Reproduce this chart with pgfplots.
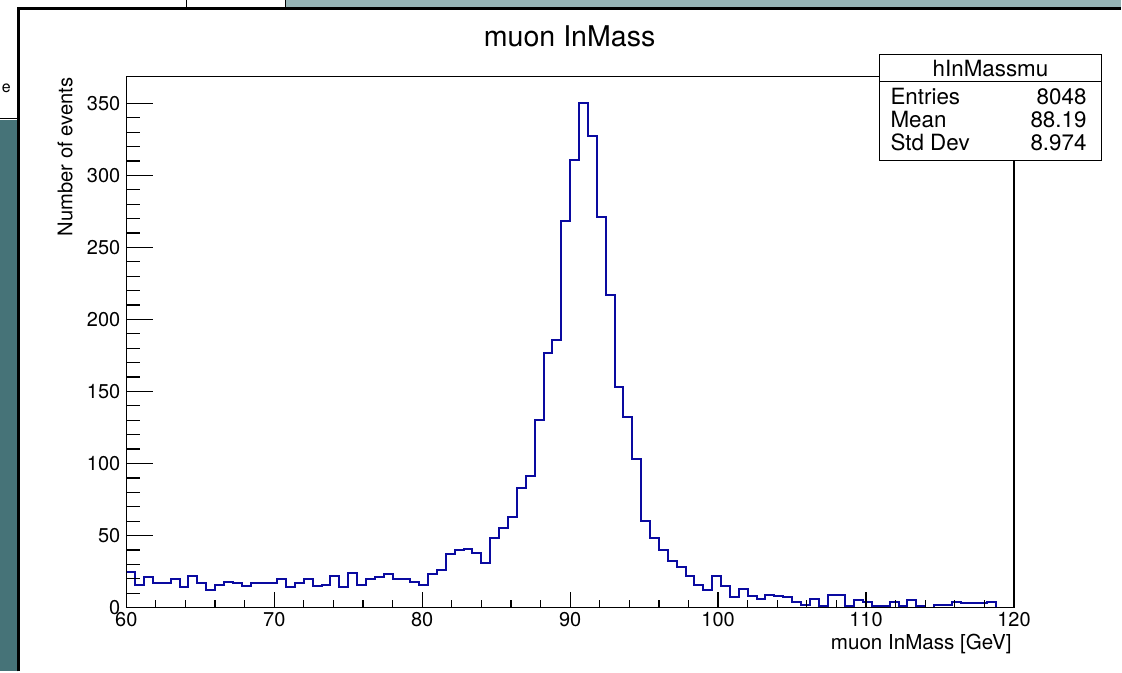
\documentclass[border=0pt]{standalone}
\usepackage{pgfplots}
\pgfplotsset{compat=1.18}
\usepackage{pgfplotstable}
\usepackage{fontspec}
\setmainfont{TeX Gyre Heros}
\definecolor{histblue}{RGB}{10,10,160}
\definecolor{bgteal}{RGB}{150,180,182}
\definecolor{bgdark}{RGB}{70,115,120}
\pgfplotstableread{
x y
60.0 25
60.6 16
61.2 21
61.8 17
62.4 17
63.0 20
63.6 14
64.2 22
64.8 17
65.4 12
66.0 16
66.6 18
67.2 17
67.8 15
68.4 17
69.0 17
69.6 17
70.2 20
70.8 14
71.4 17
72.0 20
72.6 15
73.2 16
73.8 22
74.4 14
75.0 24
75.6 16
76.2 20
76.8 21
77.4 23
78.0 20
78.6 20
79.2 18
79.8 16
80.4 23
81.0 26
81.6 37
82.2 40
82.8 41
83.4 38
84.0 31
84.6 48
85.2 55
85.8 63
86.4 83
87.0 91
87.6 130
88.2 177
88.8 186
89.4 268
90.0 311
90.6 350
91.2 327
91.8 271
92.4 217
93.0 153
93.6 132
94.2 103
94.8 60
95.4 48
96.0 40
96.6 32
97.2 28
97.8 22
98.4 16
99.0 12
99.6 22
100.2 15
100.8 7
101.4 13
102.0 8
102.6 6
103.2 9
103.8 8
104.4 7
105.0 4
105.6 2
106.2 6
106.8 1
107.4 9
108.0 9
108.6 1
109.2 5
109.8 4
110.4 1
111.0 1
111.6 4
112.2 1
112.8 5
113.4 1
114.0 0
114.6 2
115.2 2
115.8 4
116.4 3
117.0 3
117.6 3
118.2 4
118.8 0
119.4 0
120.0 0
}\histdata
\pgfplotsset{rootaxis/.style={
  at={(axcorner)}, anchor=south west,
  scale only axis, width=444.5pt, height=266pt,
  xmin=60, xmax=120, ymin=0, ymax=368.7,
  tick align=inside, xtick pos=left, ytick pos=left,
  axis line style={black, line width=0.7pt},
  tick style={black, line width=0.6pt},
  tick label style={font=\fontsize{10}{12}\selectfont},
  /pgf/number format/assume math mode=true,
  xticklabel style={yshift=1pt},
  yticklabel style={xshift=0.5pt},
  axis on top,
}}
\begin{document}
\begin{tikzpicture}[x=0.5pt,y=0.5pt]
% background / surrounding windows
\fill[bgteal] (0,0) rectangle (1122,672);
\fill[bgdark] (0,0) rectangle (18,552);
\fill[white] (0,664) rectangle (285,672);
\draw[black,line width=0.5pt] (186,664) -- (186,672) (285,664) -- (285,672);
\fill[white] (0,552) rectangle (18,664);
\draw[black,line width=0.5pt] (0,554) -- (18,554);
\node[anchor=base west,inner sep=0pt,font=\fontsize{8}{9}\selectfont] at (1,580) {e};
% canvas
\fill[white] (18,0) rectangle (1122,664);
\draw[black,line width=1.2pt] (18,0) -- (18,664) -- (1122,664);
\coordinate (axcorner) at (126,64);
% main axis: histogram and y ticks
\begin{axis}[rootaxis,
  major tick length=13.3pt, minor tick length=6.7pt,
  xtick=\empty,
  ytick={0,50,...,350}, minor y tick num=4,
]
\addplot[const plot, histblue, line width=1pt] table[x=x,y=y] {\histdata};
\end{axis}
% overlay axis: x ticks
\begin{axis}[rootaxis,
  major tick length=8pt, minor tick length=4pt,
  ytick=\empty,
  xtick={60,70,...,120}, minor x tick num=4,
]
\end{axis}
% title
\node[anchor=base, inner sep=0pt, font=\fontsize{14.3}{16}\selectfont] at (570,626) {muon InMass};
% axis labels
\node[anchor=base east, inner sep=0pt, font=\fontsize{10.3}{12}\selectfont] at (1013,22) {muon InMass [GeV]};
\node[rotate=90, anchor=base east, inner sep=0pt, font=\fontsize{10.1}{12}\selectfont] at (72,595) {Number of events};
% stats box
\filldraw[fill=white, draw=black, line width=0.6pt] (880,512) rectangle (1103,618);
\draw[black, line width=0.6pt] (880,591) -- (1103,591);
\node[anchor=base, inner sep=0pt, font=\fontsize{11.2}{13}\selectfont] at (991.5,596) {hInMassmu};
\begin{scope}[every node/.style={inner sep=0pt, font=\fontsize{11.2}{13}\selectfont}]
\node[anchor=base west] at (891,568) {Entries};
\node[anchor=base east] at (1088,568) {8048};
\node[anchor=base west] at (891,545) {Mean};
\node[anchor=base east] at (1088,545) {88.19};
\node[anchor=base west] at (891,522) {Std Dev};
\node[anchor=base east] at (1088,522) {8.974};
\end{scope}
\path (0,0) (1122,672);
\end{tikzpicture}
\end{document}
